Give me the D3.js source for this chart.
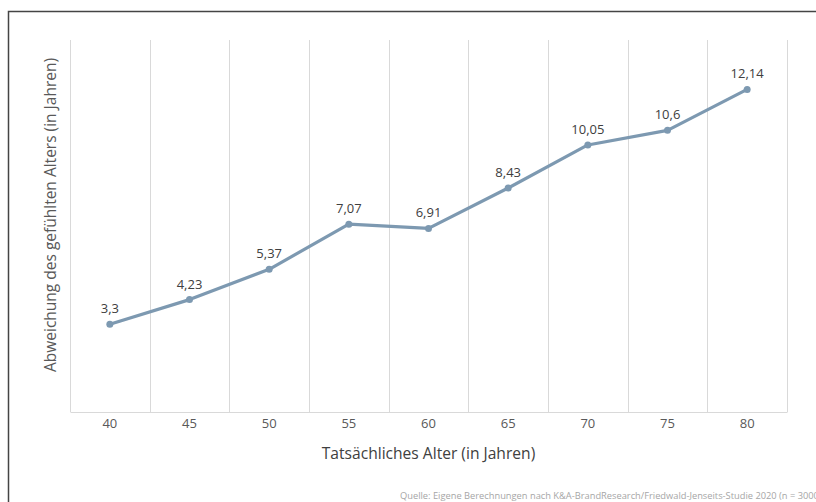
<!DOCTYPE html>
<html>
<head>
<meta charset="utf-8">
<script src="https://cdn.jsdelivr.net/npm/d3@7"></script>
<style>
body { margin: 0; background: #fff; }
text { font-family: "Open Sans", "Noto Sans", sans-serif; }
</style>
</head>
<body>
<div class="container"></div>
<script>
var ages = ["40", "45", "50", "55", "60", "65", "70", "75", "80"];
var deviation = [3.3, 4.23, 5.37, 7.07, 6.91, 8.43, 10.05, 10.6, 12.14];
var labels = ["3,3", "4,23", "5,37", "7,07", "6,91", "8,43", "10,05", "10,6", "12,14"];

var svgWidth = 816;
var svgHeight = 502;

var chartMargin = {
    top: 40,
    bottom: 90,
    left: 70,
    right: 29
};

var chartWidth = svgWidth - (chartMargin.left + chartMargin.right);
var chartHeight = svgHeight - (chartMargin.top + chartMargin.bottom);

var svg = d3.select(".container")
    .append("svg")
    .attr("width", svgWidth)
    .attr("height", svgHeight);

// outer frame (top and left edges visible)
svg.append("path")
    .attr("d", "M8.5," + svgHeight + "V11.5H" + svgWidth)
    .attr("fill", "none")
    .attr("stroke", "#444")
    .attr("stroke-width", 1.5);

var chartGroup = svg.append("g")
    .attr("transform", `translate(${chartMargin.left}, ${chartMargin.top})`);

var xBandScale = d3.scaleBand()
    .domain(ages)
    .range([0, chartWidth]);

var yLinearScale = d3.scaleLinear()
    .domain([0, 14])
    .range([chartHeight, 0]);

// vertical gridlines at band boundaries
var bounds = ages.map(a => xBandScale(a)).concat([chartWidth]);
chartGroup.selectAll(".grid")
    .data(bounds)
    .enter()
    .append("line")
    .attr("x1", d => Math.round(d) + 0.5)
    .attr("x2", d => Math.round(d) + 0.5)
    .attr("y1", 0)
    .attr("y2", chartHeight)
    .attr("stroke", "#d9d9d9")
    .attr("stroke-width", 1);

var bottomAxis = d3.axisBottom(xBandScale).tickSize(0).tickPadding(7);
var xAxisG = chartGroup.append("g")
    .attr("transform", `translate(0, ${chartHeight})`)
    .call(bottomAxis);
xAxisG.select(".domain").attr("stroke", "#d9d9d9");
xAxisG.selectAll("text")
    .attr("fill", "#595959")
    .style("font-size", "13px");

var xMid = d => xBandScale(d) + xBandScale.bandwidth() / 2;

var line = d3.line()
    .x((d, i) => xMid(ages[i]))
    .y(d => yLinearScale(d));

chartGroup.append("path")
    .datum(deviation)
    .attr("d", line)
    .attr("fill", "none")
    .attr("stroke", "#7d99b1")
    .attr("stroke-width", 3.2)
    .attr("stroke-linejoin", "round");

chartGroup.selectAll(".dot")
    .data(deviation)
    .enter()
    .append("circle")
    .attr("cx", (d, i) => xMid(ages[i]))
    .attr("cy", d => yLinearScale(d))
    .attr("r", 3.5)
    .attr("fill", "#7d99b1");

chartGroup.selectAll(".label")
    .data(deviation)
    .enter()
    .append("text")
    .attr("x", (d, i) => xMid(ages[i]))
    .attr("y", d => yLinearScale(d) - 11)
    .attr("text-anchor", "middle")
    .attr("fill", "#404040")
    .style("font-size", "13px")
    .text((d, i) => labels[i]);

// axis titles
svg.append("text")
    .attr("x", chartMargin.left + chartWidth / 2)
    .attr("y", 459)
    .attr("text-anchor", "middle")
    .attr("fill", "#404040")
    .style("font-size", "15.6px")
    .text("Tatsächliches Alter (in Jahren)");

svg.append("text")
    .attr("transform", `translate(56, 215) rotate(-90)`)
    .attr("text-anchor", "middle")
    .attr("fill", "#595959")
    .style("font-size", "15.5px")
    .text("Abweichung des gefühlten Alters (in Jahren)");

svg.append("text")
    .attr("x", 400)
    .attr("y", 499)
    .attr("fill", "#a6a6a6")
    .style("font-size", "9.3px")
    .text("Quelle: Eigene Berechnungen nach K&A-BrandResearch/Friedwald-Jenseits-Studie 2020 (n = 3000)");
</script>
</body>
</html>
